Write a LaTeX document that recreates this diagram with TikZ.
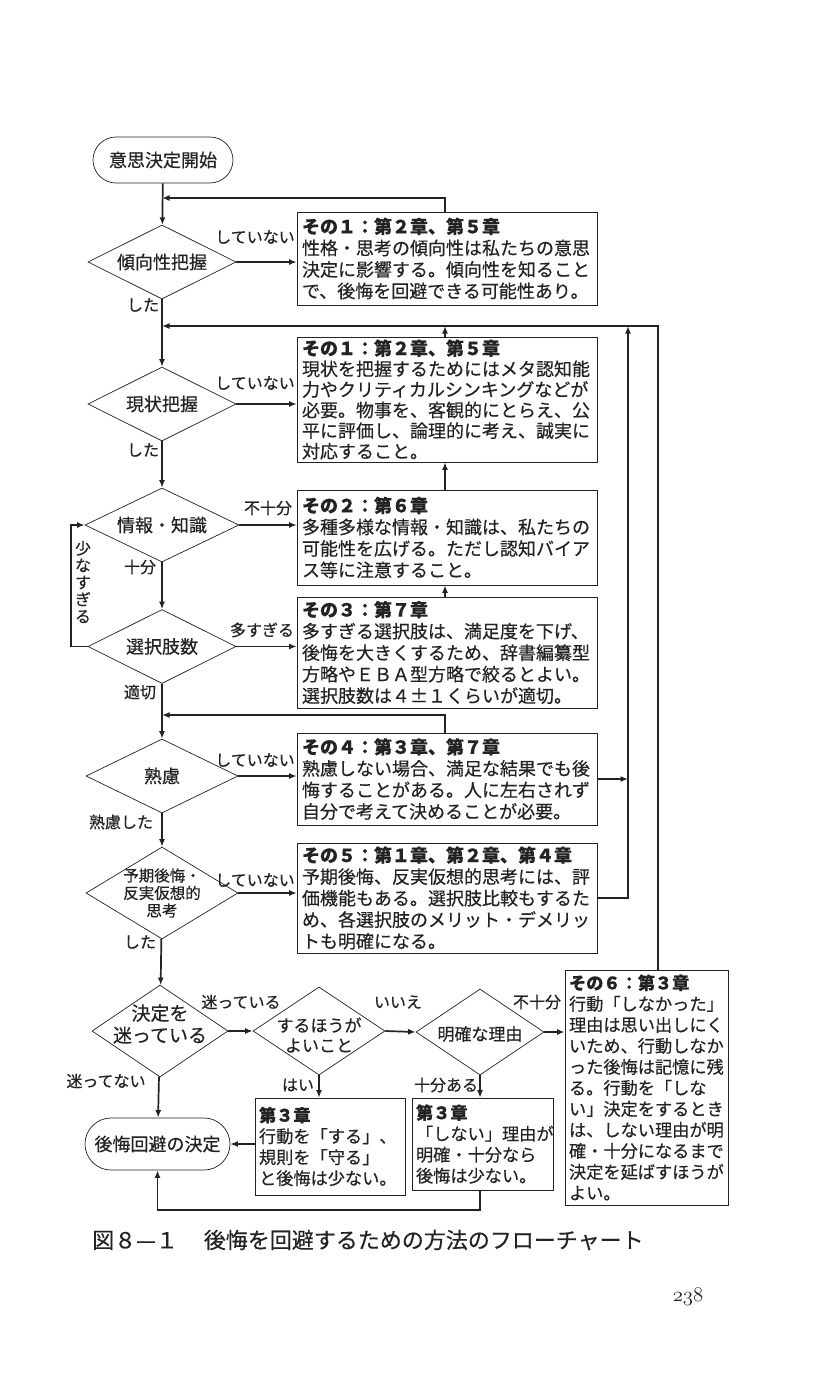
\documentclass[tikz,border=0pt]{standalone}
\usepackage{fontspec}
\setmainfont{Noto Sans CJK JP}[FakeBold=0.4]
\usetikzlibrary{shapes.geometric,shapes.misc,arrows.meta}
\definecolor{ink}{RGB}{35,35,35}
\begin{document}
\begin{tikzpicture}[x=1pt,y=-1pt,
  every node/.style={text=ink},
  conn/.style={draw=ink, line width=1.7pt, -{Latex[length=7.5pt,width=6pt]}},
  dia/.style={diamond, draw=ink, line width=0.7pt, inner sep=0pt, minimum width=148pt, minimum height=74pt},
  dlab/.style={font=\fontsize{18pt}{20pt}\selectfont, align=center, inner sep=0pt},
  term/.style={rounded rectangle, draw=ink, line width=0.7pt, inner sep=0pt, font=\fontsize{18pt}{18pt}\selectfont},
  infobox/.style={draw=ink, line width=0.7pt, align=left, inner xsep=5pt, inner ysep=2pt, font=\fontsize{18pt}{21.5pt}\selectfont},
  smallbox/.style={infobox, inner xsep=4pt, font=\fontsize{17.2pt}{21pt}\selectfont},
  lbl/.style={font=\fontsize{16pt}{16pt}\selectfont, inner sep=0pt},
]
\useasboundingbox[fill=white] (0,0) rectangle (819,1400);

% coordinates
\coordinate (x445) at (445,0);
\coordinate (xI) at (628,0);
\coordinate (xR) at (658,0);
\coordinate (xL) at (71,0);
\coordinate (j1) at (162,198);
\coordinate (j2) at (162,326);
\coordinate (j3) at (162,715);
\coordinate (yB) at (0,1210);

% terminal nodes
\node[term, minimum width=140pt, minimum height=46pt] (start) at (163,160) {意思決定開始};
\node[term, minimum width=145pt, minimum height=52pt] (end) at (157.5,1144) {後悔回避の決定};

% decisions
\node[dia, label={[dlab]center:傾向性把握}] (d1) at (162,262) {};
\node[dia, label={[dlab]center:現状把握}] (d2) at (162,404) {};
\node[dia, minimum width=154pt, label={[dlab]center:情報・知識}] (d3) at (162,525) {};
\node[dia, label={[dlab]center:選択肢数}] (d4) at (162,646.5) {};
\node[dia, minimum width=152pt, label={[dlab]center:熟慮}] (d5) at (162,776) {};
\node[dia, minimum width=152pt, minimum height=92pt, label={[dlab, font=\fontsize{15.5pt}{17.5pt}\selectfont]center:予期後悔・\\反実仮想的\\思考}] (d6) at (162,893) {};
\node[dia, minimum width=136pt, minimum height=92pt, label={[dlab, yshift=7pt, font=\fontsize{19pt}{22pt}\selectfont]center:決定を\\迷っている}] (d7) at (160,1031) {};
\node[dia, minimum width=132pt, minimum height=88pt, label={[dlab, yshift=-4pt, font=\fontsize{17pt}{20pt}\selectfont]center:するほうが\\よいこと}] (d8) at (319,1031) {};
\node[dia, minimum width=128pt, minimum height=86pt, label={[dlab, yshift=-2pt, font=\fontsize{17pt}{20pt}\selectfont]center:明確な理由}] (d9) at (480,1032) {};

% info boxes
\node[infobox, minimum width=300pt, minimum height=93pt, text width=290pt] (b1) at (447,258.5)
{\textbf{その１：第２章、第５章}\\性格・思考の傾向性は私たちの意思\\決定に影響する。傾向性を知ること\\で、後悔を回避できる可能性あり。};
\node[infobox, minimum width=300pt, minimum height=125pt, text width=290pt, font=\fontsize{18pt}{20.6pt}\selectfont] (b2) at (447,399.5)
{\textbf{その１：第２章、第５章}\\現状を把握するためにはメタ認知能\\力やクリティカルシンキングなどが\\必要。物事を、客観的にとらえ、公\\平に評価し、論理的に考え、誠実に\\対応すること。};
\node[infobox, minimum width=300pt, minimum height=95pt, text width=290pt] (b3) at (447,537.5)
{\textbf{その２：第６章}\\多種多様な情報・知識は、私たちの\\可能性を広げる。ただし認知バイア\\ス等に注意すること。};
\node[infobox, minimum width=300pt, minimum height=111pt, text width=290pt] (b3b) at (447,652.5)
{\textbf{その３：第７章}\\多すぎる選択肢は、満足度を下げ、\\後悔を大きくするため、辞書編纂型\\方略やＥＢＡ型方略で絞るとよい。\\選択肢数は４±１くらいが適切。};
\node[infobox, minimum width=300pt, minimum height=92pt, text width=290pt] (b4) at (447,779)
{\textbf{その４：第３章、第７章}\\熟慮しない場合、満足な結果でも後\\悔することがある。人に左右されず\\自分で考えて決めることが必要。};
\node[infobox, minimum width=300pt, minimum height=110pt, text width=290pt] (b5) at (447,898)
{\textbf{その５：第１章、第２章、第４章}\\予期後悔、反実仮想的思考には、評\\価機能もある。選択肢比較もするた\\め、各選択肢のメリット・デメリッ\\トも明確になる。};
\node[smallbox, minimum width=163pt, minimum height=235pt, text width=155pt] (b6) at (646.5,1087.5)
{\textbf{その６：第３章}\\行動「しなかった」\\理由は思い出しにく\\いため、行動しなか\\った後悔は記憶に残\\る。行動を「しな\\い」決定をするとき\\は、しない理由が明\\確・十分になるまで\\決定を延ばすほうが\\よい。};
\node[smallbox, minimum width=150pt, minimum height=97pt, text width=142pt] (bA) at (330,1146.5)
{\textbf{第３章}\\行動を「する」、\\規則を「守る」\\と後悔は少ない。};
\node[smallbox, minimum width=141pt, minimum height=92pt, text width=133pt] (bB) at (482.5,1144)
{\textbf{第３章}\\「しない」理由が\\明確・十分なら\\後悔は少ない。};

% main column
\draw[conn] (start) -- (d1);
\draw[conn] (d1) -- (d2);
\draw[conn] (d2) -- (d3);
\draw[conn] (d3) -- (d4);
\draw[conn] (d4) -- (d5);
\draw[conn] (d5) -- (d6);
\draw[conn] (d6) -- (d7);
\draw[conn] (d7) -- (end);

% to boxes
\draw[conn] (d1.east) -- (b1.west |- d1.east);
\draw[conn] (d2.east) -- (b2.west |- d2.east);
\draw[conn] (d3.east) -- (b3.west |- d3.east);
\draw[conn] (d4.east) -- (b3b.west |- d4.east);
\draw[conn] (d5.east) -- (b4.west |- d5.east);
\draw[conn] (d6.east) -- (b5.west |- d6.east);
\draw[conn] (d7.east) -- (d8.west);
\draw[conn] (d8.east) -- (d9.west);
\draw[conn] (d9.east) -- (b6.west |- d9.east);
\draw[conn] (d8.south) -- (d8.south |- bA.north);
\draw[conn] (d9.south) -- (d9.south |- bB.north);
\draw[conn] (bA.west |- end.east) -- (end.east);
\draw[conn] (bB.south -| d9) -- (d9 |- yB) -| (end.south);

% loops
\draw[conn] (b1.north -| x445) |- (j1);
\draw[conn] (b6.north -| xR) |- (j2);
\draw[conn] (b2.north -| x445) -- (x445 |- j2);
\draw[conn] (b3.north -| x445) -- (b2.south -| x445);
\draw[conn] (b3b.north -| x445) -- (b3.south -| x445);
\draw[conn] (b4.north -| x445) |- (j3);
\draw[conn] (b5.east) -| (xI |- j2);
\draw[conn] (b4.east) -- (xI |- b4.east);
\draw[conn] (d4.west) -- (d4.west -| xL) |- (d3.west);

% labels
\node[lbl] (l1) at (255,237) {していない};
\node[lbl] (l2) at (143,305) {した};
\node[lbl] (l3) at (255,383) {していない};
\node[lbl] (l4) at (143,450) {した};
\node[lbl] (l5) at (268,508) {不十分};
\node[lbl] (l6) at (140,567) {十分};
\node[lbl, align=center, font=\fontsize{16pt}{17pt}\selectfont] (l7) at (83,582) {少\\な\\す\\ぎ\\る};
\node[lbl] (l8) at (262,630) {多すぎる};
\node[lbl] (l9) at (140,692) {適切};
\node[lbl] (l10) at (255,760) {していない};
\node[lbl] (l11) at (121,822) {熟慮した};
\node[lbl] (l12) at (255,880) {していない};
\node[lbl] (l13) at (140,942) {した};
\node[lbl] (l14) at (241,1002) {迷っている};
\node[lbl] (l15) at (398,1002) {いいえ};
\node[lbl] (l16) at (537,1002) {不十分};
\node[lbl] (l17) at (106,1081) {迷ってない};
\node[lbl] (l18) at (298,1085) {はい};
\node[lbl] (l19) at (446,1085) {十分ある};

% caption
\node[anchor=west, inner sep=0pt, font=\fontsize{22pt}{22pt}\selectfont] (cap) at (92,1240) {図８—１\hspace{26pt}後悔を回避するための方法のフローチャート};
\node[inner sep=0pt, font=\fontsize{21pt}{21pt}\selectfont] (pg) at (688,1297) {$\mathnormal{238}$};
\end{tikzpicture}
\end{document}
